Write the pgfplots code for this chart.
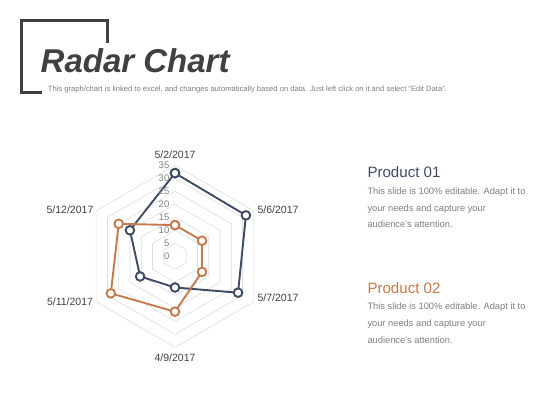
\documentclass[border=0pt]{standalone}
\usepackage{pgfplots}
\pgfplotsset{compat=1.18}
\usepackage{fontspec}
\setmainfont{Liberation Sans}
\definecolor{navy}{HTML}{3E4C63}
\definecolor{orng}{HTML}{C47A4C}
\definecolor{dgray}{HTML}{404040}
\definecolor{mgray}{HTML}{7F7F7F}
\definecolor{lgray}{HTML}{DDDDDD}
\begin{document}
\begin{tikzpicture}[x=1pt,y=1pt]
\path[use as bounding box] (0,0) rectangle (560,420);
% title frame
\draw[dgray, line width=2.6pt] (41.7,327.3) -- (21.7,327.3) -- (21.7,399.3) -- (107.3,399.3) -- (107.3,376.7);
\node[anchor=base west, inner sep=0pt, text=dgray, font=\fontsize{33}{36}\selectfont\bfseries\itshape] at (40.5,347.7) {Radar Chart};
\node[anchor=base west, inner sep=0pt, text=mgray, font=\fontsize{7.6}{9}\selectfont] at (47.7,328.5) {This graph/chart is linked to excel, and changes automatically based on data. Just left click on it and select “Edit Data”.};
% right texts
\node[anchor=base west, inner sep=0pt, text=navy, font=\fontsize{15.1}{17}\selectfont] at (367.3,242.7) {Product 01};
\node[anchor=base west, inner sep=0pt, text=mgray, font=\fontsize{9.3}{11}\selectfont] at (367.3,225) {This slide is 100\% editable. Adapt it to};
\node[anchor=base west, inner sep=0pt, text=mgray, font=\fontsize{9.3}{11}\selectfont] at (367.3,208.5) {your needs and capture your};
\node[anchor=base west, inner sep=0pt, text=mgray, font=\fontsize{9.3}{11}\selectfont] at (367.3,192) {audience's attention.};
\node[anchor=base west, inner sep=0pt, text=orng, font=\fontsize{15.1}{17}\selectfont] at (367.3,126.7) {Product 02};
\node[anchor=base west, inner sep=0pt, text=mgray, font=\fontsize{9.3}{11}\selectfont] at (367.3,110.5) {This slide is 100\% editable. Adapt it to};
\node[anchor=base west, inner sep=0pt, text=mgray, font=\fontsize{9.3}{11}\selectfont] at (367.3,93.3) {your needs and capture your};
\node[anchor=base west, inner sep=0pt, text=mgray, font=\fontsize{9.3}{11}\selectfont] at (367.3,76) {audience's attention.};
% radar
\begin{axis}[
  at={(71pt,59.7pt)}, anchor=south west,
  x=2.6pt, y=2.6pt,
  xmin=-40, xmax=40, ymin=-40, ymax=40,
  hide axis, clip=false,
  data cs=polar,
]
\addplot[lgray, line width=0.6pt] coordinates {(90,5) (30,5) (-30,5) (-90,5) (-150,5) (150,5) (90,5)};
\addplot[lgray, line width=0.6pt] coordinates {(90,10) (30,10) (-30,10) (-90,10) (-150,10) (150,10) (90,10)};
\addplot[lgray, line width=0.6pt] coordinates {(90,15) (30,15) (-30,15) (-90,15) (-150,15) (150,15) (90,15)};
\addplot[lgray, line width=0.6pt] coordinates {(90,20) (30,20) (-30,20) (-90,20) (-150,20) (150,20) (90,20)};
\addplot[lgray, line width=0.6pt] coordinates {(90,25) (30,25) (-30,25) (-90,25) (-150,25) (150,25) (90,25)};
\addplot[lgray, line width=0.6pt] coordinates {(90,30) (30,30) (-30,30) (-90,30) (-150,30) (150,30) (90,30)};
\addplot[lgray, line width=0.6pt] coordinates {(90,35) (30,35) (-30,35) (-90,35) (-150,35) (150,35) (90,35)};
% Product 01
\addplot[navy, line width=1.9pt, mark=*, mark size=4.3pt, mark options={fill=white, line width=1.9pt}]
  coordinates {(90,32) (30,31.5) (-30,28) (-90,12) (-150,15.5) (150,20) (90,32)};
% Product 02
\addplot[orng, line width=1.9pt, mark=*, mark size=4.3pt, mark options={fill=white, line width=1.9pt}]
  coordinates {(90,12) (30,12) (-30,12) (-90,21.3) (-150,28.5) (150,25) (90,12)};
\end{axis}
% value labels
\foreach \v/\k in {0/0,5/1,10/2,15/3,20/4,25/5,30/6,35/7}{
  \node[anchor=east, inner sep=0pt, text=mgray, font=\fontsize{9.5}{10}\selectfont] at (169.5,163.7+13*\k) {\v};
}
% category labels
\node[text=dgray, font=\fontsize{10.5}{12}\selectfont, inner sep=0pt] at (175,265) {5/2/2017};
\node[text=dgray, font=\fontsize{10.5}{12}\selectfont, inner sep=0pt] at (278,210) {5/6/2017};
\node[text=dgray, font=\fontsize{10.5}{12}\selectfont, inner sep=0pt] at (278,122) {5/7/2017};
\node[text=dgray, font=\fontsize{10.5}{12}\selectfont, inner sep=0pt] at (175,62) {4/9/2017};
\node[text=dgray, font=\fontsize{10.5}{12}\selectfont, inner sep=0pt] at (70,118) {5/11/2017};
\node[text=dgray, font=\fontsize{10.5}{12}\selectfont, inner sep=0pt] at (70,210) {5/12/2017};
\end{tikzpicture}
\end{document}
